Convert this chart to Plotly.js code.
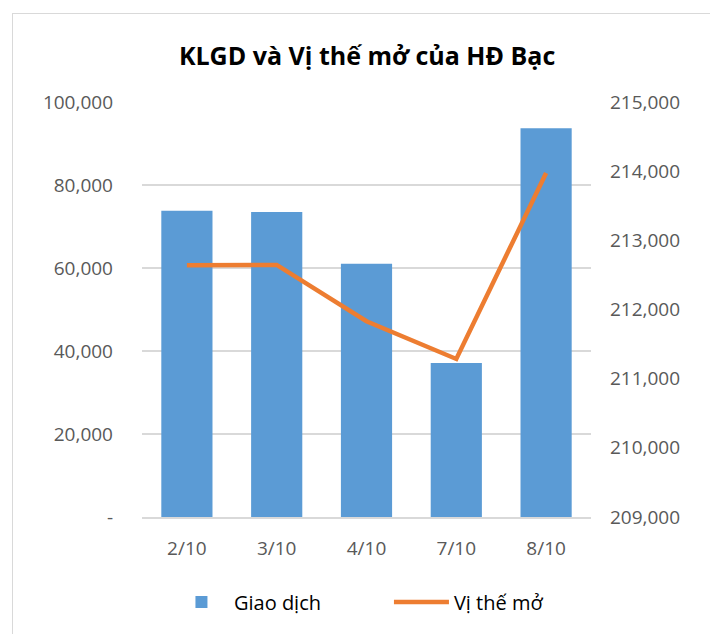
<!DOCTYPE html>
<html>
<head>
<meta charset="utf-8">
<script src="https://cdn.plot.ly/plotly-3.0.1.min.js"></script>
<style>
html,body{margin:0;padding:0;background:#fff;}
#wrap{position:relative;width:710px;height:634px;overflow:hidden;}
#frame{position:absolute;left:12px;top:13px;width:720px;height:650px;border:1.5px solid #d9d9d9;box-sizing:border-box;}
#chart{position:absolute;left:0;top:0;width:710px;height:634px;}
</style>
</head>
<body>
<div id="wrap"><div id="frame"></div><div id="chart"></div></div>
<script>
const categories = ["2/10", "3/10", "4/10", "7/10", "8/10"];
const giaoDich = [73800, 73500, 61000, 37100, 93700];
const viTheMo = [212640, 212645, 211830, 211285, 213975];
const leftTicks = [0, 20000, 40000, 60000, 80000, 100000];
const leftTickText = ["-", "20,000", "40,000", "60,000", "80,000", "100,000"];
const rightTicks = [209000, 210000, 211000, 212000, 213000, 214000, 215000];
const rightTickText = ["209,000", "210,000", "211,000", "212,000", "213,000", "214,000", "215,000"];

const font = "'Open Sans', 'Liberation Sans', sans-serif";
const data = [
  {type: "bar", name: "Giao dịch", x: categories, y: giaoDich,
   marker: {color: "#5b9bd5"}, yaxis: "y"},
  {type: "scatter", mode: "lines", name: "Vị thế mở", x: categories, y: viTheMo,
   line: {color: "#ed7d31", width: 4.5}, yaxis: "y2"}
];
const layout = {
  width: 710, height: 634,
  margin: {l: 142, r: 119, t: 102, b: 117},
  paper_bgcolor: "rgba(0,0,0,0)", plot_bgcolor: "rgba(0,0,0,0)",
  font: {family: font, color: "#595959", size: 19},
  title: {text: "<b>KLGD và Vị thế mở của HĐ Bạc</b>", x: 0.517, xanchor: "center", y: 0.912, yanchor: "middle",
          font: {family: font, size: 25, color: "#000"}},
  bargap: 0.43,
  showlegend: true,
  legend: {orientation: "h", x: 0.55, xanchor: "center", y: -0.205, yanchor: "middle",
           font: {family: font, size: 20, color: "#000"}, itemwidth: 55, entrywidth: 150},
  xaxis: {type: "category", showgrid: false, showline: true, linecolor: "#d9d9d9", linewidth: 1.5,
          ticks: "", ticklabelstandoff: 14, tickfont: {size: 19, color: "#595959"}},
  yaxis: {range: [0, 100000], tickvals: leftTicks, ticktext: leftTickText, showgrid: true,
          gridcolor: "#d9d9d9", gridwidth: 1.5, zeroline: false, showline: false, ticks: "",
          ticklabelstandoff: 28, tickfont: {size: 19, color: "#595959"}},
  yaxis2: {range: [209000, 215000], tickvals: rightTicks, ticktext: rightTickText, overlaying: "y",
           side: "right", showgrid: false, zeroline: false, showline: false, ticks: "",
           ticklabelstandoff: 18, tickfont: {size: 19, color: "#595959"}}
};
Plotly.newPlot("chart", data, layout, {displayModeBar: false, staticPlot: true});
</script>
</body>
</html>
